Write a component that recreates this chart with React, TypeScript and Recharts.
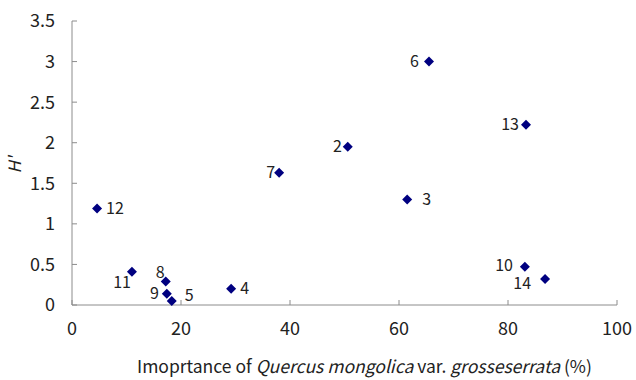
import { ScatterChart, Scatter, XAxis, YAxis } from "recharts";

// plot numbers (sites 2..14)
const siteIds = ["2", "3", "4", "5", "6", "7", "8", "9", "10", "11", "12", "13", "14"];
const importance = [50.6, 61.5, 29.2, 18.3, 65.5, 38.0, 17.2, 17.4, 83.1, 11.0, 4.6, 83.3, 86.8];
const diversity = [1.95, 1.3, 0.2, 0.05, 3.0, 1.63, 0.29, 0.14, 0.47, 0.41, 1.19, 2.22, 0.32];

const xTicks = [0, 20, 40, 60, 80, 100];
const yTicks = [0, 0.5, 1, 1.5, 2, 2.5, 3, 3.5];

const data = siteIds.map((id, i) => ({ id, x: importance[i], y: diversity[i] }));

// where each number sits next to its marker
const labelPlace: Record<string, { dx: number; dy: number; anchor: "start" | "end" }> = {
  "2": { dx: -6, dy: 0, anchor: "end" },
  "3": { dx: 15, dy: 0, anchor: "start" },
  "4": { dx: 9, dy: 0, anchor: "start" },
  "5": { dx: 13, dy: -6, anchor: "start" },
  "6": { dx: -10, dy: 0, anchor: "end" },
  "7": { dx: -4, dy: 0, anchor: "end" },
  "8": { dx: -1, dy: -9, anchor: "end" },
  "9": { dx: -8, dy: 0, anchor: "end" },
  "10": { dx: -12, dy: -1, anchor: "end" },
  "11": { dx: -1, dy: 11, anchor: "end" },
  "12": { dx: 9, dy: 0, anchor: "start" },
  "13": { dx: -7, dy: 0, anchor: "end" },
  "14": { dx: -14, dy: 4, anchor: "end" },
};

const FONT = "'Noto Sans CJK JP', 'Noto Sans', sans-serif";
const AXIS = "#8c8c8c";

function Diamond(props: any) {
  const { cx, cy, payload } = props;
  const r = 5;
  const p = labelPlace[payload.id];
  return (
    <g>
      <polygon
        points={`${cx},${cy - r} ${cx + r},${cy} ${cx},${cy + r} ${cx - r},${cy}`}
        fill="#000080"
      />
      <text
        x={cx + p.dx}
        y={cy + p.dy}
        dy="0.35em"
        textAnchor={p.anchor}
        fontSize={16}
        fontFamily={FONT}
        fill="#222"
      >
        {payload.id}
      </text>
    </g>
  );
}

export default function App() {
  return (
    <div style={{ position: "absolute", left: 0, top: 0, width: 636, height: 380, background: "#fff" }}>
      <ScatterChart width={636} height={380} margin={{ top: 21, right: 19, left: 0, bottom: 0 }}>
        <XAxis
          type="number"
          dataKey="x"
          domain={[0, 100]}
          ticks={xTicks}
          height={75}
          stroke={AXIS}
          tickSize={-5}
          tickMargin={22}
          tick={{ fill: "#222", fontSize: 18, fontFamily: FONT }}
          label={{
            content: () => (
              <text x={137} y={373} textAnchor="start" fontSize={17.5} fontFamily={FONT} fill="#222">
                Imoprtance of <tspan fontStyle="italic">Quercus mongolica</tspan> var.{" "}
                <tspan fontStyle="italic">grosseserrata</tspan> (%)
              </text>
            ),
          }}
        />
        <YAxis
          type="number"
          dataKey="y"
          domain={[0, 3.5]}
          ticks={yTicks}
          width={72}
          stroke={AXIS}
          tickSize={-5}
          tickMargin={22}
          tick={{ fill: "#222", fontSize: 18, fontFamily: FONT }}
          label={{
            content: () => (
              <text
                x={15}
                y={165}
                transform="rotate(-90 15 165)"
                textAnchor="middle"
                dy="0.35em"
                fontSize={17}
                fontStyle="italic"
                fontFamily={FONT}
                fill="#222"
              >
                H'
              </text>
            ),
          }}
        />
        <Scatter data={data} shape={Diamond} isAnimationActive={false} />
      </ScatterChart>
    </div>
  );
}
